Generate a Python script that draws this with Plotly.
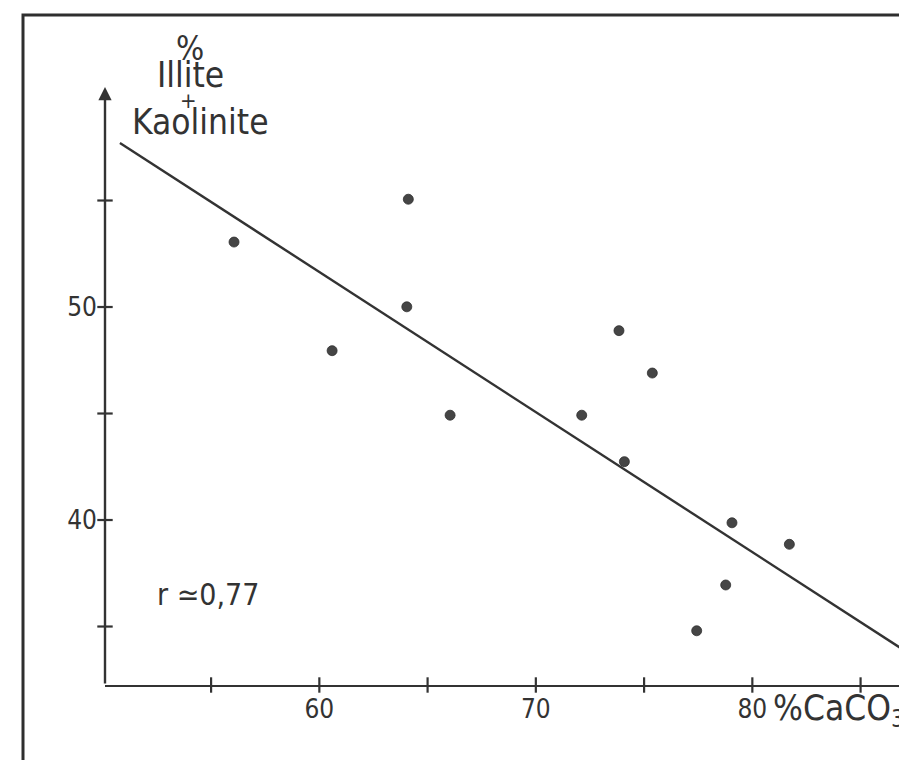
import plotly.graph_objects as go

# ---- data ----
caco3 = [56.06, 60.59, 64.11, 64.04, 66.04, 72.12, 73.84, 74.09, 75.38, 79.06, 78.77, 77.43, 81.71]
illite_kaolinite = [53.05, 47.95, 55.06, 50.01, 44.92, 44.92, 48.89, 42.74, 46.90, 39.87, 36.95, 34.80, 38.86]
fit_x = [50.79, 87.5]
fit_y = [57.70, 33.56]
x_minor_ticks = [55, 60, 65, 70, 75, 80, 85]
y_minor_ticks = [35, 40, 45, 50, 55]
x_tickvals = [60, 70, 80]
x_ticktext = ["60", "70", "80"]
y_tickvals = [40, 50]
y_ticktext = ["40", "50"]
r_text = "r \u22430,77"

# ---- layout geometry (pixels of the 899x760 page) ----
W, H = 899, 760
L, B = 105, 75            # plot area left / bottom margins
PW, PH = W - L, H - B     # 794 x 685
XMIN, XSCALE = 50.1, 21.65
YMIN, YSCALE = 32.254, 21.3
XMAX = XMIN + PW / XSCALE
YMAX = YMIN + PH / YSCALE
INK = "#333333"
FONT = "DejaVu Sans Condensed, DejaVu Sans, sans-serif"


def px(x):
    return (x - L) / PW


def py(y):
    return (PH - y) / PH


fig = go.Figure()

# regression line
fig.add_trace(go.Scatter(x=fit_x, y=fit_y, mode="lines",
                         line=dict(color=INK, width=2.4), hoverinfo="skip"))
# data points
fig.add_trace(go.Scatter(x=caco3, y=illite_kaolinite, mode="markers",
                         marker=dict(color="#454545", size=10,
                                     line=dict(color="#303030", width=0.8))))
# crossing tick marks on the x axis
fig.add_trace(go.Scatter(x=x_minor_ticks, y=[YMIN] * len(x_minor_ticks), mode="markers",
                         marker=dict(symbol="line-ns", size=11,
                                     line=dict(color=INK, width=2.2)),
                         cliponaxis=False, hoverinfo="skip"))
# crossing tick marks on the y axis
fig.add_trace(go.Scatter(x=[XMIN] * len(y_minor_ticks), y=y_minor_ticks, mode="markers",
                         marker=dict(symbol="line-ew", size=11,
                                     line=dict(color=INK, width=2.2)),
                         cliponaxis=False, hoverinfo="skip"))

annotations = [
    # y axis with arrow head
    dict(x=XMIN, y=60.33, ax=XMIN, ay=YMIN, xref="x", yref="y", axref="x", ayref="y",
         text="", showarrow=True, arrowhead=2, arrowsize=1.1, arrowwidth=2.4,
         arrowcolor=INK, standoff=0, startstandoff=0),
    dict(x=px(190), y=py(49), xref="paper", yref="paper", text="%",
         showarrow=False, font=dict(size=33, color=INK, family=FONT),
         xanchor="center", yanchor="middle"),
    dict(x=px(190), y=py(75), xref="paper", yref="paper", text="Illite",
         showarrow=False, font=dict(size=35, color=INK, family=FONT),
         xanchor="center", yanchor="middle"),
    dict(x=px(188), y=py(100), xref="paper", yref="paper", text="+",
         showarrow=False, font=dict(size=22, color=INK, family=FONT),
         xanchor="center", yanchor="middle"),
    dict(x=px(200), y=py(122), xref="paper", yref="paper", text="Kaolinite",
         showarrow=False, font=dict(size=35, color=INK, family=FONT),
         xanchor="center", yanchor="middle"),
    dict(x=px(155), y=py(594), xref="paper", yref="paper", text=r_text,
         showarrow=False, font=dict(size=30, color=INK, family=FONT),
         xanchor="left", yanchor="middle"),
    dict(x=px(771), y=py(710), xref="paper", yref="paper", text="%CaCO<sub>3</sub>",
         showarrow=False, font=dict(size=35, color=INK, family=FONT),
         xanchor="left", yanchor="middle"),
]

shapes = [
    # outer frame of the scanned figure (runs off the page right and bottom)
    dict(type="rect", xref="paper", yref="paper",
         x0=px(23), x1=px(W + 20), y0=py(H + 20), y1=py(15),
         line=dict(color="#2e2e2e", width=3), layer="above"),
]

fig.update_layout(
    width=W, height=H,
    margin=dict(l=L, r=0, t=0, b=B, pad=0),
    paper_bgcolor="white", plot_bgcolor="white",
    showlegend=False,
    annotations=annotations, shapes=shapes,
    xaxis=dict(range=[XMIN, XMAX], showgrid=False, zeroline=False,
               showline=True, linecolor=INK, linewidth=2.4,
               tickmode="array", tickvals=x_tickvals, ticktext=x_ticktext,
               ticks="", ticklabelstandoff=0,
               tickfont=dict(size=26, color=INK, family=FONT)),
    yaxis=dict(range=[YMIN, YMAX], showgrid=False, zeroline=False,
               showline=False,
               tickmode="array", tickvals=y_tickvals, ticktext=y_ticktext,
               ticks="", ticklabelstandoff=7,
               tickfont=dict(size=26, color=INK, family=FONT)),
)

fig.write_html("out.html",
               config={"displayModeBar": False},
               post_script="document.body.style.margin='0px';"
                           "document.body.style.overflow='hidden';")
